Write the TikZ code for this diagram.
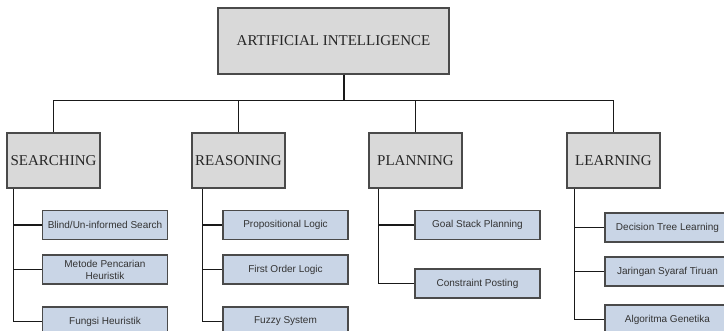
\documentclass[tikz,border=0pt]{standalone}
\usepackage{fontspec}
\setmainfont{Liberation Serif}
\newfontfamily\leaffont{Liberation Sans}
\usetikzlibrary{calc}
\definecolor{headgray}{HTML}{D9D9D9}
\definecolor{leafblue}{HTML}{C9D5E6}
\definecolor{edgegray}{HTML}{4A4A4A}
\tikzset{
  headbox/.style={draw=edgegray,fill=headgray,line width=1.1pt,minimum width=93pt,minimum height=55pt,inner sep=0pt,text=black!85,font=\fontsize{15}{17}\selectfont},
  topbox/.style={headbox,minimum width=231pt,minimum height=66pt},
  leafbox/.style={draw=edgegray,fill=leafblue,line width=1.1pt,minimum width=125pt,minimum height=29pt,inner sep=0pt,align=center,text=black!80,font=\leaffont\fontsize{10}{12}\selectfont},
  link/.style={line width=1.5pt,black!90}
}
\begin{document}
\begin{tikzpicture}[x=1pt,y=-1pt]
\clip (0,0) rectangle (724,331);
\node[topbox] (ai) at (333.5,41) {ARTIFICIAL INTELLIGENCE};
\node[headbox] (srch) at (53.5,160.5) {SEARCHING}; \node[headbox] (rsn) at (238.5,160.5) {REASONING};
\node[headbox] (pln) at (415.5,160.5) {PLANNING}; \node[headbox] (lrn) at (613.5,160.5) {LEARNING};
\node[leafbox] (blind) at (105,225) {Blind/Un-informed Search};
\node[leafbox] (metode) at (105,269.5) {Metode Pencarian\\Heuristik};
\node[leafbox] (fungsi) at (105,321.5) {Fungsi Heuristik};
\node[leafbox] (prop) at (285.5,225) {Propositional Logic};
\node[leafbox] (fol) at (285.5,269.5) {First Order Logic};
\node[leafbox] (fuzzy) at (285.5,321.5) {Fuzzy System};
\node[leafbox] (goal) at (477.5,225) {Goal Stack Planning};
\node[leafbox] (cons) at (477.5,283.5) {Constraint Posting};
\node[leafbox] (tree) at (667.5,227.5) {Decision Tree Learning};
\node[leafbox] (jst) at (667.5,271.5) {Jaringan Syaraf Tiruan};
\node[leafbox] (gen) at (667.5,319.5) {Algoritma Genetika};
\coordinate (hub) at ($(ai.south)+(10.5,0)$); \coordinate (bus) at ($(hub)+(0,26)$);
\draw[link] (hub) -- (bus);
\draw[link] (srch.north) |- (bus) -| (lrn.north);
\draw[link] (rsn.north) -- (rsn.north |- bus); \draw[link] (pln.north) -- (pln.north |- bus);
\coordinate (s1) at ($(srch.south west)+(7,0)$); \coordinate (s2) at ($(rsn.south west)+(11,0)$);
\coordinate (s3) at ($(pln.south west)+(10,0)$); \coordinate (s4) at ($(lrn.south west)+(8,0)$);
\draw[link] (s1) |- (fungsi.west); \draw[link] (s1 |- blind.west) -- (blind.west); \draw[link] (s1 |- metode.west) -- (metode.west);
\draw[link] (s2) |- (fuzzy.west); \draw[link] (s2 |- prop.west) -- (prop.west); \draw[link] (s2 |- fol.west) -- (fol.west);
\draw[link] (s3) |- (cons.west); \draw[link] (s3 |- goal.west) -- (goal.west);
\draw[link] (s4) |- (gen.west); \draw[link] (s4 |- tree.west) -- (tree.west); \draw[link] (s4 |- jst.west) -- (jst.west);
\end{tikzpicture}
\end{document}
